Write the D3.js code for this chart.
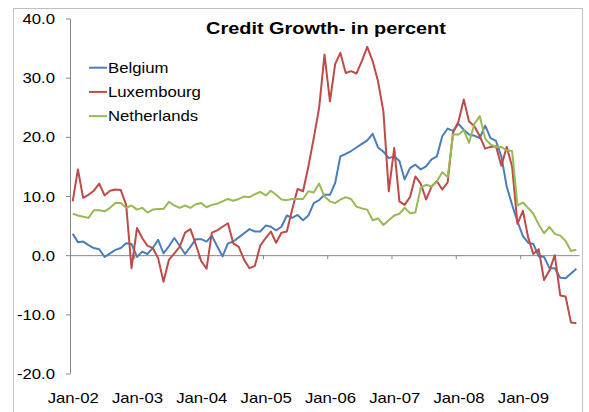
<!DOCTYPE html>
<html>
<head>
<meta charset="utf-8">
<script src="https://cdn.jsdelivr.net/npm/d3@7"></script>
<style>
  body { margin: 0; background: #fff; }
  text { font-family: "Liberation Sans", Arial, sans-serif; fill: #000; }
</style>
</head>
<body>
<script>
// monthly credit growth, Jan-02 .. Nov-09
const belgium = [
    3.6, 2.2, 2.3, 1.7, 1.2, 1.0, -0.3, 0.3, 0.9, 1.2,
    2.0, 1.9, -0.3, 0.6, 0.2, 1.2, 2.6, 0.3, 1.5, 2.9,
    1.6, 0.2, 1.4, 2.7, 2.7, 2.3, 3.3, 1.5, -0.2, 2.0,
    2.3, 3.0, 3.7, 4.4, 4.0, 4.0, 5.0, 4.8, 4.2, 4.8,
    6.7, 6.3, 6.8, 5.9, 6.7, 8.8, 9.3, 10.2, 10.2, 12.2,
    16.7, 17.1, 17.6, 18.2, 18.8, 19.4, 20.5, 18.2, 17.5, 16.4,
    16.7, 15.9, 12.8, 14.7, 15.3, 14.5, 15.0, 16.2, 16.7, 20.1,
    21.4, 21.0, 22.2, 21.2, 20.4, 20.2, 19.8, 21.9, 19.8, 19.3,
    16.7, 11.6, 8.5, 5.7, 3.2, 2.1, 1.9, -0.2, -0.3, -2.2,
    -2.2, -3.8, -3.9, -3.1, -2.3
];
const luxembourg = [
    9.1, 14.5, 9.7, 10.2, 10.9, 12.1, 10.1, 10.9, 11.1, 11.0,
    8.5, -2.2, 4.6, 2.9, 1.6, 1.2, -0.5, -4.5, -0.8, 0.3,
    1.4, 3.8, 4.4, 1.8, -1.0, -2.3, 3.8, 4.2, 4.8, 5.4,
    2.0, 1.4, -0.8, -2.2, -1.8, 1.6, 2.9, 4.0, 2.1, 3.8,
    4.0, 7.7, 11.2, 10.8, 15.0, 19.8, 24.9, 33.9, 26.0, 32.3,
    34.2, 30.8, 31.1, 30.7, 32.8, 35.2, 32.8, 29.4, 24.3, 10.8,
    18.1, 9.1, 8.5, 9.8, 13.3, 12.1, 9.4, 11.6, 12.5, 11.1,
    12.3, 20.7, 22.6, 26.3, 22.6, 21.8, 20.1, 18.0, 18.3, 18.4,
    15.1, 18.3, 15.0, 5.3, 7.5, 3.0, 0.2, 1.0, -4.2, -2.6,
    0.0, -6.8, -7.0, -11.4, -11.5
];
const netherlands = [
    7.0, 6.7, 6.5, 6.3, 7.6, 7.6, 7.4, 8.0, 8.8, 8.8,
    8.0, 8.4, 7.7, 8.0, 7.2, 7.7, 7.8, 7.8, 9.0, 8.4,
    8.0, 8.4, 8.0, 8.6, 8.8, 8.1, 8.5, 8.7, 9.1, 9.5,
    9.2, 9.5, 9.9, 9.8, 10.3, 10.7, 10.1, 10.9, 10.2, 9.4,
    9.3, 9.5, 9.5, 9.5, 10.8, 10.6, 12.1, 9.9, 9.1, 8.8,
    9.4, 9.8, 9.5, 8.2, 7.9, 7.7, 5.9, 6.2, 5.1, 5.9,
    6.7, 7.0, 8.0, 7.1, 7.2, 11.4, 11.9, 11.6, 12.5, 14.0,
    13.2, 20.4, 20.4, 21.1, 19.0, 22.2, 23.5, 19.7, 18.7, 18.3,
    18.3, 17.7, 17.6, 8.4, 8.9, 8.0, 7.0, 5.2, 3.7, 4.8,
    3.6, 3.3, 2.4, 0.7, 0.9
];

const seriesNames = ["Belgium", "Luxembourg", "Netherlands"];
const seriesColors = ["#4a7ebb", "#be4b48", "#98b954"];
const yTicks = [-20, -10, 0, 10, 20, 30, 40];
const months = d3.timeMonth.range(new Date(2002, 0, 1), new Date(2009, 11, 1));
const yearTicks = d3.timeYear.range(new Date(2002, 0, 1), new Date(2010, 0, 1));

const W = 589, H = 412;
const STRETCH = 1.17; // the picture is a bit wider than tall, text included

const svg = d3.select('body').append('svg')
    .attr('width', W)
    .attr('height', H);

// chart frame
svg.append('rect')
    .attr('x', 13.5).attr('y', 8.5)
    .attr('width', 569).attr('height', 420)
    .attr('fill', '#fff')
    .attr('stroke', '#bfbfbf');

const x = d3.scaleTime()
    .domain([new Date(2002, 0, 1), new Date(2009, 11, 1)])
    .range([70, 579]);
const y = d3.scaleLinear()
    .domain([-20, 40])
    .range([373.5, 18.5]);

const midMonth = m => (x(m) + x(d3.timeMonth.offset(m, 1))) / 2;

// y axis
const yAxis = d3.axisLeft(y)
    .tickValues(yTicks)
    .tickSize(4)
    .tickSizeOuter(0)
    .tickFormat(d => d.toFixed(1));

const gy = svg.append('g')
    .attr('transform', `translate(${x.range()[0]},0)`)
    .call(yAxis);
gy.select('.domain').attr('stroke', '#868686');
gy.selectAll('line').attr('stroke', '#868686');
gy.selectAll('text')
    .attr('x', 0).attr('dy', '0.35em')
    .attr('font-size', 14.3)
    .attr('transform', `translate(-15,0) scale(${STRETCH},1)`);

// x axis crosses at zero, labels sit at the bottom
const y0 = y(0);
const xAxis = d3.axisBottom(x)
    .tickValues(yearTicks)
    .tickSize(4)
    .tickSizeOuter(0)
    .tickFormat(d3.timeFormat('%b-%y'));

const gx = svg.append('g')
    .attr('transform', `translate(0,${y0})`)
    .call(xAxis);
gx.select('.domain').attr('stroke', '#868686');
gx.selectAll('line').attr('stroke', '#868686');
gx.selectAll('text')
    .attr('y', 0).attr('dy', 0)
    .attr('font-size', 14.3)
    .attr('transform', `translate(2.7,${403 - y0}) scale(${STRETCH},1)`);

// lines
const series = [belgium, luxembourg, netherlands];
const line = d3.line()
    .x((d, i) => midMonth(months[i]))
    .y(d => y(d));

svg.selectAll('path.series')
    .data(series)
    .enter().append('path')
    .attr('class', 'series')
    .attr('d', line)
    .attr('fill', 'none')
    .attr('stroke', (d, i) => seriesColors[i])
    .attr('stroke-width', 2)
    .attr('stroke-linejoin', 'round');

// title
svg.append('text')
    .attr('text-anchor', 'middle')
    .attr('font-size', 17)
    .attr('font-weight', 'bold')
    .attr('transform', `translate(326,34) scale(${STRETCH},1)`)
    .text('Credit Growth- in percent');

// legend
const legend = svg.selectAll('.legend')
    .data(seriesNames)
    .enter().append('g')
    .attr('class', 'legend')
    .attr('transform', (d, i) => `translate(89,${67.7 + i * 24.2})`);

legend.append('line')
    .attr('x1', 0).attr('x2', 18)
    .attr('stroke', (d, i) => seriesColors[i])
    .attr('stroke-width', 2);

legend.append('text')
    .attr('font-size', 14.3)
    .attr('transform', `translate(19,5) scale(${STRETCH},1)`)
    .text(d => d);
</script>
</body>
</html>
